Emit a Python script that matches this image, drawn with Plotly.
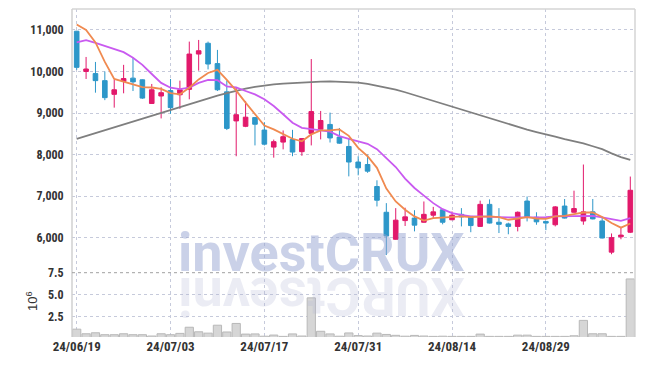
import plotly.graph_objects as go

dates = ["24/06/19", "24/06/20", "24/06/21", "24/06/24", "24/06/25", "24/06/26", "24/06/27", "24/06/28",
         "24/07/01", "24/07/02", "24/07/03", "24/07/04", "24/07/05", "24/07/08", "24/07/09", "24/07/10",
         "24/07/11", "24/07/12", "24/07/15", "24/07/16", "24/07/17", "24/07/18", "24/07/19", "24/07/22",
         "24/07/23", "24/07/24", "24/07/25", "24/07/26", "24/07/29", "24/07/30", "24/07/31", "24/08/01",
         "24/08/02", "24/08/05", "24/08/06", "24/08/07", "24/08/08", "24/08/09", "24/08/12", "24/08/13",
         "24/08/14", "24/08/16", "24/08/19", "24/08/20", "24/08/21", "24/08/22", "24/08/23", "24/08/26",
         "24/08/27", "24/08/28", "24/08/29", "24/08/30", "24/09/02", "24/09/03", "24/09/04", "24/09/05",
         "24/09/06", "24/09/09", "24/09/10", "24/09/11"]

opens = [10970, 10000, 9950, 9780, 9450, 9760, 9840, 9800, 9230, 9410,
         9540, 9440, 9570, 10420, 10680, 10190, 9510, 8810, 8680, 8890,
         8590, 8180, 8300, 8360, 8070, 8510, 8610, 8725, 8420, 8195,
         7820, 7760, 7230, 6610, 5960, 6410, 6470, 6370, 6540, 6670,
         6430, 6560, 6510, 6270, 6800, 6370, 6330, 6270, 6880, 6490,
         6390, 6310, 6760, 6610, 6400, 6620, 6400, 5650, 6020, 6130]
highs = [10980, 10350, 10230, 10000, 9800, 10160, 10330, 9810, 9700, 9620,
         9820, 9780, 10720, 10760, 10720, 10520, 9780, 9620, 9290, 8900,
         8780, 8360, 8580, 8595, 8390, 10300, 9050, 9010, 8640, 8380,
         7960, 8000, 7380, 6830, 6710, 6720, 6660, 6870, 6740, 6680,
         6630, 6710, 6520, 6890, 6920, 6710, 6360, 6630, 6990, 6610,
         6400, 6760, 6930, 7130, 7760, 6930, 6500, 6100, 6260, 7470]
lows = [10040, 9820, 9490, 9310, 9130, 9475, 9530, 9340, 9220, 8870,
        8980, 9100, 9330, 10020, 10050, 9530, 8590, 7960, 8660, 8220,
        8220, 7925, 8125, 7960, 7970, 8220, 8365, 8290, 8260, 7475,
        7500, 7560, 6750, 5580, 5950, 6280, 6150, 6360, 6450, 6320,
        6420, 6270, 6130, 6260, 6340, 6110, 6080, 6150, 6390, 6310,
        6180, 6270, 6460, 6600, 6310, 6440, 5980, 5600, 5960, 6110]
closes = [10100, 10060, 9780, 9370, 9560, 9830, 9750, 9360, 9560, 9490,
          9130, 9560, 10420, 10500, 10180, 9560, 8630, 8960, 8900, 8730,
          8250, 8310, 8430, 8060, 8385, 9035, 8820, 8400, 8275, 7820,
          7680, 7600, 6900, 6040, 6420, 6500, 6300, 6560, 6620, 6370,
          6540, 6500, 6290, 6800, 6350, 6320, 6270, 6610, 6500, 6380,
          6350, 6740, 6470, 6700, 6620, 6450, 5990, 6000, 6060, 7140]

ma5 = [11130, 11000, 10700, 10230, 9820, 9750, 9685, 9625, 9615, 9580,
       9480, 9450, 9610, 9810, 9965, 10040, 9800, 9540, 9250, 8970,
       8700, 8605, 8500, 8380, 8320, 8485, 8580, 8580, 8605, 8450,
       8160, 7960, 7680, 7180, 6870, 6670, 6510, 6410, 6470, 6485,
       6485, 6510, 6495, 6510, 6510, 6495, 6430, 6460, 6495, 6460,
       6450, 6510, 6525, 6565, 6605, 6605, 6495, 6350, 6240, 6340]
ma10 = [10700, 10755, 10690, 10615, 10540, 10465, 10330, 10160, 9940, 9725,
        9610, 9575, 9610, 9725, 9795, 9790, 9640, 9615, 9530, 9450,
        9330, 9170, 8970, 8765, 8645, 8605, 8580, 8550, 8445, 8380,
        8320, 8260, 8130, 7920, 7700, 7420, 7195, 7010, 6830, 6685,
        6590, 6550, 6510, 6510, 6510, 6495, 6485, 6485, 6485, 6485,
        6495, 6510, 6510, 6510, 6525, 6525, 6485, 6450, 6405, 6470]
ma_long = [8380, 8450, 8520, 8590, 8660, 8730, 8800, 8870, 8940, 9010,
           9080, 9150, 9220, 9290, 9360, 9420, 9480, 9540, 9590, 9630,
           9665, 9690, 9710, 9725, 9735, 9745, 9755, 9760, 9755, 9745,
           9730, 9700, 9660, 9610, 9565, 9500, 9430, 9370, 9300, 9230,
           9160, 9090, 9020, 8950, 8880, 8800, 8730, 8660, 8600, 8540,
           8490, 8430, 8370, 8320, 8270, 8200, 8130, 8030, 7940, 7870]

volume = [1.08e6, 0.56e6, 0.67e6, 0.45e6, 0.45e6, 0.56e6, 0.45e6, 0.45e6, 0.30e6, 0.56e6,
          0.45e6, 0.60e6, 1.30e6, 0.78e6, 0.63e6, 1.53e6, 0.76e6, 1.73e6, 0.52e6, 0.54e6,
          0.28e6, 0.41e6, 0.26e6, 0.54e6, 0.30e6, 4.64e6, 0.84e6, 0.54e6, 0.28e6, 0.65e6,
          0.35e6, 0.30e6, 0.63e6, 0.48e6, 0.38e6, 0.28e6, 0.37e6, 0.30e6, 0.26e6, 0.28e6,
          0.26e6, 0.26e6, 0.26e6, 0.52e6, 0.26e6, 0.26e6, 0.26e6, 0.40e6, 0.40e6, 0.26e6,
          0.26e6, 0.26e6, 0.26e6, 0.33e6, 2.08e6, 0.56e6, 0.56e6, 0.26e6, 0.26e6, 6.79e6]

price_ticks = [6000, 7000, 8000, 9000, 10000, 11000]
vol_ticks = [2.5e6, 5.0e6, 7.5e6]
vol_tick_text = ["2.5", "5.0", "7.5"]
x_ticks = dates[::10]

UP = "#E2196B"
DOWN = "#2D97C9"
GRID = "#c6cadb"
FAM = "Roboto Condensed, Noto Sans Condensed, Liberation Sans Narrow, DejaVu Sans Condensed, sans-serif"
YFONT = dict(family=FAM, size=12, color="#333333", weight="bold")
XFONT = dict(family=FAM, size=13, color="#333333", weight="bold")

# page offset (browser body margin) compensation
OFF = 8
FW, FH = 637, 358
L, R, T, B = 72 - OFF, 10, 9 - OFF, 29
PLOT_L, PLOT_T = 72, 9
PW, PH = FW - L - R, FH - T - B
def px_x(p):
    return (p - PLOT_L) / PW
def px_y(p):
    return (PLOT_T + PH - p) / PH

fig = go.Figure()
fig.add_trace(go.Bar(x=dates, y=volume, yaxis="y2", xaxis="x",
                     marker=dict(color="#d6d6d6", line=dict(color="#b8b8b8", width=1)),
                     hoverinfo="skip"))
fig.add_trace(go.Candlestick(x=dates, open=opens, high=highs, low=lows, close=closes,
                             xaxis="x", yaxis="y",
                             increasing=dict(line=dict(color=UP, width=1), fillcolor=UP),
                             decreasing=dict(line=dict(color=DOWN, width=1), fillcolor=DOWN),
                             whiskerwidth=0))
fig.add_trace(go.Scatter(x=dates, y=ma_long, mode="lines", xaxis="x", yaxis="y",
                         line=dict(color="#7f7f7f", width=1.8)))
fig.add_trace(go.Scatter(x=dates, y=ma10, mode="lines", xaxis="x", yaxis="y",
                         line=dict(color="#C95AF0", width=1.8)))
fig.add_trace(go.Scatter(x=dates, y=ma5, mode="lines", xaxis="x", yaxis="y",
                         line=dict(color="#F08A50", width=1.8)))

# watermark with reflection
wm_size = 54
fig.add_annotation(text="<b>investCRUX</b>", xref="paper", yref="paper",
                   x=px_x(321.5), y=px_y(252.5), xanchor="center", yanchor="middle",
                   showarrow=False, font=dict(family="Roboto, Liberation Sans, sans-serif",
                                              size=wm_size, color="rgba(150,163,210,0.5)"))
chars = list("investCRUX")
widths = [0.26, 0.56, 0.50, 0.53, 0.52, 0.34, 0.66, 0.64, 0.65, 0.63]
total = sum(widths) * wm_size
xs = 321.5 - total / 2
for ch, w in zip(chars, widths):
    cx = xs + w * wm_size / 2
    xs += w * wm_size
    fig.add_annotation(text="<b>" + ch + "</b>", xref="paper", yref="paper",
                       x=px_x(cx), y=px_y(296.5), xanchor="center", yanchor="middle",
                       textangle=180, showarrow=False,
                       font=dict(family="Roboto, Liberation Sans, sans-serif",
                                 size=wm_size, color="rgba(175,178,210,0.25)"))

fig.add_annotation(text="10<sup>6</sup>", xref="paper", yref="paper",
                   x=px_x(32), y=px_y(301), xanchor="center", yanchor="middle",
                   textangle=-90, showarrow=False,
                   font=dict(family="Liberation Sans, sans-serif", size=13, color="#333333"))

split = px_y(272.7)
fig.update_layout(
    width=FW, height=FH,
    margin=dict(l=L, r=R, t=T, b=B, autoexpand=False),
    paper_bgcolor="white", plot_bgcolor="white",
    showlegend=False,
    xaxis=dict(type="category", categoryorder="array", categoryarray=dates,
               range=[-0.5, len(dates) - 0.5], anchor="y2", automargin=False,
               tickvals=x_ticks, ticktext=x_ticks,
               showgrid=True, gridcolor=GRID, griddash="dot", gridwidth=1,
               ticks="", tickfont=XFONT, tickangle=0,
               rangeslider=dict(visible=False), zeroline=False, showline=False),
    yaxis=dict(domain=[split, 1], range=[5155, 11505], anchor="x", automargin=False,
               tickvals=price_ticks, tickformat=",d",
               showgrid=True, gridcolor=GRID, griddash="dot", gridwidth=1,
               ticks="outside", ticklen=5, tickcolor="rgba(0,0,0,0)",
               tickfont=YFONT, zeroline=False),
    yaxis2=dict(domain=[0, split], range=[0.19e6, 7.5e6], anchor="x", automargin=False,
                tickvals=vol_ticks, ticktext=vol_tick_text,
                showgrid=True, gridcolor=GRID, griddash="dot", gridwidth=1,
                ticks="outside", ticklen=5, tickcolor="rgba(0,0,0,0)",
                tickfont=YFONT, zeroline=False),
    bargap=0.12,
)
fig.add_shape(type="line", xref="paper", yref="paper", x0=0, x1=1, y0=1, y1=1,
              line=dict(color="#d4d4d4", width=1.5))
fig.add_shape(type="line", xref="paper", yref="paper", x0=1, x1=1, y0=0, y1=1,
              line=dict(color="#d4d4d4", width=1.5))
fig.add_shape(type="line", xref="paper", yref="paper", x0=0, x1=0, y0=0, y1=1,
              line=dict(color="#d0d0d0", width=1.5))
fig.add_shape(type="line", xref="paper", yref="paper", x0=0, x1=1, y0=split, y1=split,
              line=dict(color="#a0a0a0", width=1, dash="dot"))

fig.write_html("out.html")
